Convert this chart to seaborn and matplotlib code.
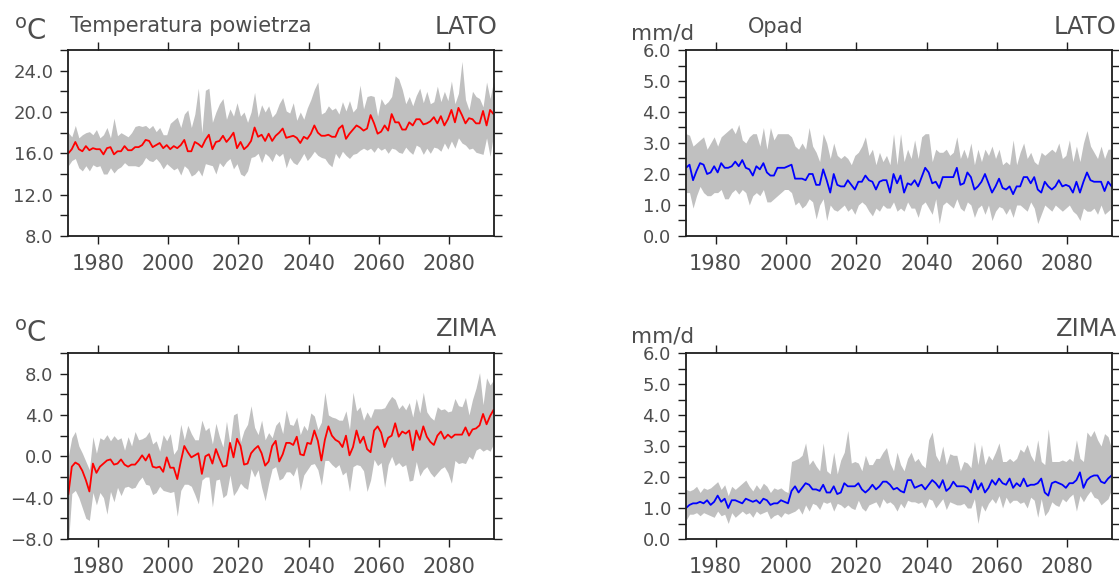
import numpy as np
import pandas as pd
import matplotlib
matplotlib.use("Agg")
import matplotlib.pyplot as plt
from matplotlib.ticker import MultipleLocator, FuncFormatter
import seaborn as sns

# ---------------------------------------------------------------- data
years = list(range(1971, 2094))

# summer (LATO) air temperature [degC]: ensemble mean, max, min
t_lato_mean = [
    16.0, 16.4, 17.1, 16.4, 16.2, 16.7, 16.3, 16.5, 16.4, 16.4,
    15.9, 16.5, 16.6, 15.9, 16.2, 16.2, 16.7, 16.3, 16.3, 16.6,
    16.6, 16.8, 17.3, 17.2, 16.6, 16.8, 17.0, 16.5, 16.8, 16.4,
    16.7, 16.5, 16.8, 17.3, 16.2, 16.2, 17.1, 16.9, 16.6, 17.3,
    17.8, 16.4, 17.1, 17.2, 17.7, 17.1, 17.5, 18.0, 16.5, 17.1,
    16.4, 16.7, 17.2, 18.5, 17.6, 17.8, 17.2, 17.9, 17.2, 17.7,
    18.0, 18.4, 17.5, 17.6, 17.7, 17.5, 17.0, 17.6, 17.4, 17.9,
    18.7, 18.0, 17.7, 17.7, 17.8, 17.6, 17.6, 18.4, 18.7, 17.4,
    17.9, 18.3, 18.7, 18.5, 18.2, 18.4, 19.7, 18.9, 17.9, 18.1,
    18.7, 18.2, 19.8, 19.0, 19.0, 18.3, 18.3, 19.0, 18.7, 19.3,
    19.3, 18.8, 18.9, 19.1, 19.5, 18.9, 19.6, 18.7, 19.3, 20.2,
    19.0, 20.4, 19.7, 18.9, 19.4, 19.3, 18.9, 18.9, 20.1, 18.7,
    20.2, 19.8, 19.8,
]
t_lato_max = [
    18.0, 17.6, 18.7, 17.5, 17.8, 18.0, 18.1, 17.8, 18.3, 17.5,
    17.8, 18.5, 17.5, 19.4, 17.7, 18.0, 17.8, 17.6, 18.0, 18.6,
    18.7, 18.6, 18.7, 18.4, 18.7, 18.1, 18.5, 17.8, 17.8, 18.9,
    19.2, 19.5, 18.5, 19.8, 20.2, 18.5, 19.8, 22.3, 18.0, 22.1,
    22.3, 19.0, 20.0, 20.8, 21.3, 19.3, 20.3, 19.6, 20.9, 19.6,
    20.0, 19.0, 20.0, 21.9, 19.5, 20.7, 20.0, 20.6, 19.5, 19.9,
    20.8, 21.4, 20.1, 19.9, 20.9, 19.2, 20.0, 19.3, 20.4, 21.2,
    22.2, 22.9, 19.8, 20.0, 20.6, 20.2, 20.4, 19.8, 21.0, 20.1,
    21.1, 20.0, 20.4, 22.6, 20.3, 21.5, 21.6, 21.5, 19.6, 21.3,
    20.7, 21.0, 21.5, 23.5, 23.2, 22.2, 20.8, 21.5, 20.6, 21.6,
    22.3, 20.9, 22.0, 20.8, 21.0, 22.5, 21.0, 22.0, 21.1, 23.0,
    20.8, 21.8, 24.9, 21.2, 20.2, 22.0, 21.5, 21.3, 20.5, 22.9,
    21.3, 23.0, 20.9,
]
t_lato_min = [
    14.8, 15.3, 15.5, 14.6, 14.3, 14.8, 14.3, 14.9, 14.7, 14.8,
    14.0, 14.0, 14.6, 14.1, 14.5, 14.7, 15.1, 14.8, 14.8, 14.8,
    14.7, 15.0, 15.6, 15.3, 15.2, 15.5, 15.1, 14.5, 15.0, 14.7,
    14.4, 14.6, 13.9, 14.8, 14.5, 13.8, 14.0, 14.4, 13.8, 15.0,
    14.9, 14.8, 14.0, 15.1, 14.7, 15.2, 15.5, 14.5, 15.0, 14.0,
    13.8, 14.3, 15.6, 15.7, 16.0, 15.1, 16.0, 15.7, 15.2, 16.0,
    15.7, 16.0, 14.6, 15.6, 15.1, 14.9, 15.4, 16.0, 15.3, 15.7,
    16.2, 15.8, 15.6, 15.5, 15.0, 14.7, 16.0, 15.5, 16.2, 15.8,
    15.5, 15.9, 16.0, 16.3, 16.5, 16.3, 16.5, 16.1, 16.6, 16.3,
    16.5, 16.0, 16.5, 16.4, 16.1, 16.0, 16.6, 16.2, 15.9, 16.8,
    16.6, 15.9, 16.5, 16.0, 16.6, 16.5, 16.2, 17.0, 16.4, 17.2,
    16.5, 17.5, 17.0, 16.8, 16.4, 16.5, 16.1, 16.0, 15.9, 17.5,
    15.7, 17.9, 18.5,
]

# winter (ZIMA) air temperature [degC]
t_zima_mean = [
    -3.7, -1.0, -0.6, -0.8, -1.4, -2.3, -3.4, -0.7, -1.6, -1.0,
    -0.7, -0.4, -0.3, -0.8, -0.7, -0.3, -0.8, -1.0, -0.8, -0.8,
    -0.4, 0.1, -0.4, 0.2, -1.0, -1.1, -1.0, -1.5, -0.1, -1.1,
    -1.1, -2.2, -0.5, 1.0, 0.4, -0.1, 0.1, 0.3, -1.7, 0.0,
    0.2, -0.7, 0.7, -0.2, -1.0, -0.9, 1.3, -0.1, 1.7, 1.0,
    -0.8, -0.7, 0.3, 0.7, 1.0, 0.3, -0.9, -0.5, 1.0, 1.5,
    -0.5, 0.2, 1.3, 1.3, 1.1, 1.9, 0.2, 0.1, 1.3, 1.2,
    2.5, 1.5, -0.4, 1.6, 2.9, 2.0, 1.6, 1.4, 0.9, 2.0,
    0.1, 0.9, 2.5, 1.3, 1.9, 0.7, 0.4, 2.5, 2.9, 2.3,
    0.9, 1.8, 2.0, 3.2, 1.9, 2.4, 2.2, 2.5, 0.6, 2.5,
    1.6, 2.9, 1.9, 1.4, 1.1, 2.0, 2.4, 1.7, 2.1, 1.8,
    2.1, 2.1, 2.1, 2.8, 2.0, 2.6, 2.7, 3.0, 4.1, 3.1,
    3.9, 4.5, 3.6,
]
t_zima_max = [
    0.0, 1.8, 2.4, 1.0, 0.3, -0.5, -1.3, 1.9, 0.3, 1.8,
    1.6, 2.1, 1.5, 2.0, 1.6, 1.8, 0.6, 1.9, 1.0, 2.4,
    1.6, 1.7, 1.9, 2.4, 1.2, 1.5, 0.5, 2.1, 1.5, 2.2,
    0.2, 0.7, 3.1, 1.6, 3.0, 2.2, 1.6, 1.6, 3.5, 2.5,
    2.8, 1.2, 3.2, 1.9, 0.9, 3.4, 1.2, 4.0, 4.2, 1.4,
    2.5, 3.1, 4.9, 2.8, 2.1, 3.5, 1.6, 2.3, 1.8, 3.0,
    3.4, 2.2, 4.5, 3.1, 3.0, 3.8, 2.1, 3.0, 2.5, 4.2,
    3.9, 2.6, 3.3, 6.2, 4.0, 3.8, 3.7, 3.5, 3.5, 4.4,
    2.6, 6.2, 4.4, 4.8, 3.5, 4.3, 3.7, 4.6, 4.6, 4.6,
    4.7, 5.3, 5.8, 5.5, 4.6, 5.0, 4.5, 5.2, 3.8, 5.6,
    4.2, 6.2, 4.3, 3.8, 3.5, 4.8, 4.5, 4.6, 4.3, 4.4,
    5.6, 4.9, 4.8, 5.7, 4.0, 5.5, 6.6, 8.1, 5.0, 7.6,
    6.9, 7.4, 5.3,
]
t_zima_min = [
    -8.6, -3.6, -3.3, -4.0, -5.0, -6.0, -6.2, -3.5, -4.7, -3.5,
    -4.0, -5.6, -3.4, -4.4, -3.0, -3.8, -3.0, -2.9, -3.1, -3.0,
    -2.4, -2.0, -2.7, -2.8, -3.7, -3.5, -2.9, -3.3, -3.4, -3.5,
    -3.4, -5.8, -3.3, -2.7, -2.7, -2.9, -3.7, -4.6, -2.3, -2.0,
    -2.0, -4.9, -2.3, -2.2, -4.0, -3.7, -1.8, -3.8, -3.3, -2.6,
    -3.0, -3.2, -1.2, -2.0, -1.3, -3.0, -4.3, -2.6, -1.2, -1.0,
    -2.3, -2.1, -1.5, -1.5, -1.9, -1.0, -3.3, -1.8, -1.3, -0.8,
    -0.7, -1.3, -2.8, -0.4, -0.4, -0.8, -1.1, -0.8, -1.8, -1.5,
    -3.4, -1.0, -0.8, -0.9, -1.4, -3.4, -2.3, -0.3, -0.9, -0.6,
    -3.0, -0.8, 0.0, -0.9, -0.6, -1.0, -0.8, -2.4, -2.3, -0.5,
    -1.9, -1.3, -1.0, -1.6, -2.0, -1.6, -1.2, -1.0, -1.6, -2.6,
    -0.4, -0.7, -0.6, -0.7, 0.0, -0.3, 0.6, 0.8, 0.5, 0.7,
    0.5, 1.2, 2.2,
]

# summer (LATO) precipitation [mm/d]
p_lato_mean = [
    2.2, 2.3, 1.8, 2.1, 2.35, 2.3, 2.0, 2.05, 2.25, 2.05,
    2.35, 2.2, 2.2, 2.25, 2.4, 2.25, 2.45, 2.2, 2.15, 1.95,
    2.25, 2.15, 2.35, 2.05, 1.95, 1.95, 2.2, 2.2, 2.2, 2.25,
    2.3, 1.85, 1.85, 1.85, 1.8, 2.0, 2.0, 1.65, 1.65, 2.15,
    1.8, 1.4, 2.0, 1.65, 1.6, 1.6, 1.8, 1.65, 1.5, 1.75,
    1.75, 1.95, 1.8, 1.75, 1.5, 1.75, 1.8, 1.8, 1.4, 2.0,
    1.7, 1.95, 1.4, 1.7, 1.65, 1.8, 1.6, 1.9, 2.2, 2.05,
    1.7, 1.75, 1.55, 1.9, 1.9, 1.9, 1.9, 2.2, 1.65, 1.7,
    2.05, 1.9, 1.5, 1.6, 1.75, 2.0, 1.7, 1.4, 1.6, 1.85,
    1.55, 1.5, 1.6, 1.35, 1.6, 1.6, 1.9, 1.9, 1.7, 1.9,
    1.5, 1.4, 1.75, 1.6, 1.5, 1.6, 1.8, 1.6, 1.65, 1.6,
    1.4, 1.75, 1.4, 1.75, 2.05, 1.8, 1.75, 1.75, 1.75, 1.45,
    1.75, 1.6, 1.9,
]
p_lato_max = [
    3.3, 3.25, 2.9, 3.0, 3.1, 3.2, 2.8, 3.0, 3.2, 2.9,
    3.2, 3.3, 3.4, 3.5, 3.3, 3.6, 3.1, 3.0, 3.2, 3.3,
    3.3, 2.9, 3.5, 2.8, 3.5, 3.1, 3.3, 3.3, 3.3, 3.3,
    3.2, 2.9, 2.8, 3.0, 2.8, 3.5, 2.9, 2.7, 2.4, 3.3,
    3.0, 2.5, 3.0, 2.6, 2.5, 2.6, 2.5, 2.3, 2.6, 2.7,
    2.9, 3.2, 2.6, 2.8, 2.3, 2.7, 2.4, 2.6, 2.3, 3.3,
    2.3, 3.3, 2.4, 2.8, 2.5, 3.1, 2.5, 3.2, 3.3, 3.3,
    2.4, 2.8, 2.7, 2.7, 2.8, 2.6, 2.7, 3.2, 2.5, 2.8,
    2.5, 3.0, 2.3, 2.8, 2.4, 2.8, 2.6, 2.9, 2.5, 2.8,
    2.3, 2.4, 2.3, 3.1, 2.3, 2.7, 3.0, 2.5, 2.7, 2.4,
    2.3, 2.7, 2.6, 2.7, 2.8, 2.7, 3.0, 2.5, 2.6, 3.1,
    2.4, 2.9, 2.4, 3.0, 3.4, 2.9, 2.7, 2.5, 2.9, 2.5,
    2.8, 2.8, 3.0,
]
p_lato_min = [
    1.4, 1.4, 0.9, 1.3, 1.6, 1.4, 1.3, 1.3, 1.4, 1.4,
    1.5, 1.2, 1.2, 1.4, 1.5, 1.35, 1.5, 1.4, 1.0, 1.3,
    1.4, 1.3, 1.5, 1.1, 1.1, 1.2, 1.3, 1.4, 1.5, 1.5,
    1.4, 1.0, 1.1, 0.9, 1.0, 1.2, 1.1, 0.55, 1.0, 1.2,
    0.5, 1.0, 0.85, 0.8, 0.9, 1.0, 0.8, 0.9, 0.7, 1.0,
    1.1, 1.0, 0.8, 0.65, 0.9, 0.8, 1.0, 0.9, 0.9, 1.1,
    0.8, 0.9, 0.8, 1.1, 0.9, 0.9, 0.6, 1.0, 1.1, 0.9,
    0.7, 1.2, 0.4, 1.0, 1.1, 1.0, 0.9, 1.2, 0.9, 0.8,
    1.1, 1.0, 0.6, 0.9, 1.0, 0.7, 1.0, 0.5, 0.8, 0.95,
    0.9, 0.7, 0.9, 0.6, 1.0, 1.0, 0.9, 0.8, 1.1, 0.9,
    0.4, 0.7, 1.0, 0.9, 0.8, 1.0, 0.9, 0.8, 0.9, 1.0,
    0.8, 0.7, 0.5, 0.9, 0.8, 0.8, 0.9, 0.7, 1.0, 0.7,
    0.8, 0.9, 0.7,
]

# winter (ZIMA) precipitation [mm/d]
p_zima_mean = [
    1.0, 1.1, 1.15, 1.15, 1.2, 1.15, 1.25, 1.1, 1.2, 1.4,
    1.2, 1.3, 1.0, 1.25, 1.25, 1.2, 1.15, 1.3, 1.25, 1.2,
    1.25, 1.15, 1.3, 1.25, 1.1, 1.15, 1.15, 1.25, 1.2, 1.15,
    1.55, 1.7, 1.5, 1.65, 1.8, 1.75, 1.6, 1.6, 1.55, 1.75,
    1.5, 1.5, 1.7, 1.45, 1.5, 1.8, 1.7, 1.7, 1.7, 1.8,
    1.6, 1.5, 1.6, 1.75, 1.6, 1.7, 1.85, 1.85, 1.75, 1.6,
    1.65, 1.55, 1.5, 1.9, 1.9, 1.65, 1.7, 1.75, 1.6, 1.75,
    1.9, 1.8, 1.65, 1.9, 1.55, 1.65, 1.85, 1.7, 1.7, 1.7,
    1.65, 1.5, 1.9, 1.6, 1.8, 1.5, 1.65, 1.9, 1.75, 1.95,
    1.8, 1.75, 1.95, 1.65, 1.8, 1.7, 1.95, 1.7, 1.75, 1.75,
    1.8, 1.95, 1.5, 1.4, 1.8, 1.85, 1.8, 1.75, 1.65, 1.8,
    1.8, 1.9, 2.15, 1.65, 1.9, 2.0, 2.05, 2.05, 1.85, 1.8,
    1.95, 2.05, 2.2,
]
p_zima_max = [
    1.6, 1.55, 1.6, 1.7, 1.5, 1.65, 1.6, 1.65, 1.75, 1.85,
    1.6, 1.75, 1.4, 1.7, 1.6, 1.7, 1.8, 1.9, 1.7, 1.55,
    1.75, 1.6, 1.8, 1.7, 1.5, 1.65, 1.6, 1.65, 1.55, 1.5,
    2.5, 2.55, 2.6, 2.7, 3.1, 2.4, 2.55, 2.35, 2.2, 3.1,
    2.2, 2.1, 2.8, 2.1, 2.55, 2.8, 3.5, 2.45, 2.5, 2.45,
    2.2, 2.7, 2.4, 2.4, 2.6, 2.6, 2.8, 2.95, 2.45, 2.2,
    2.8, 2.4, 2.2, 2.6, 2.8, 2.5, 2.6, 2.4, 2.3, 3.2,
    3.45, 2.7, 2.5, 3.0, 2.4, 2.75, 2.7, 2.7, 2.2, 2.5,
    2.45, 2.3, 3.15, 2.4, 3.05, 2.4, 2.7, 2.55, 2.8, 3.1,
    2.5, 2.5, 2.6, 2.5, 2.6, 2.9, 2.8, 3.05, 2.7, 2.5,
    3.2, 2.5, 2.4, 3.55, 2.5, 2.5, 2.5, 2.55, 2.5, 2.6,
    2.5, 3.2, 2.6, 2.5, 3.45, 3.3, 3.5, 3.2, 3.0, 3.4,
    3.3, 2.9, 3.0,
]
p_zima_min = [
    0.6, 0.8, 0.8, 0.85, 0.75, 0.85, 0.8, 0.75, 0.7, 0.9,
    0.75, 0.8, 0.5, 0.85, 0.7, 0.8, 0.9, 0.8, 0.85, 0.7,
    0.9, 0.8, 0.85, 0.9, 0.65, 0.75, 0.8, 0.7, 0.85, 0.8,
    0.85, 0.9, 1.0, 0.8, 1.1, 0.9, 1.15, 1.1, 0.95, 1.2,
    1.15, 1.2, 0.9, 1.15, 1.1, 1.0, 1.1, 1.0, 0.95, 1.25,
    1.0, 0.9, 1.1, 1.15, 1.2, 1.0, 1.3, 1.15, 1.2, 1.1,
    0.9, 1.15, 1.0, 1.25, 1.2, 1.2, 1.15, 1.2, 1.0, 1.3,
    1.25, 1.0, 1.15, 1.3, 0.95, 1.2, 1.15, 1.1, 1.1, 1.15,
    1.0, 1.0, 1.3, 0.5, 1.1, 0.9, 1.15, 1.3, 1.15, 1.4,
    1.0, 1.35, 1.15, 1.25, 1.25, 1.15, 1.2, 1.0, 1.35, 1.25,
    0.7, 1.3, 0.75, 0.9, 1.2, 1.1, 1.05, 1.3, 1.2, 1.35,
    1.45, 0.9, 1.4, 1.2, 1.4, 1.55, 1.35, 1.3, 1.1, 1.2,
    1.3, 1.6, 1.5,
]

# ---------------------------------------------------------------- style
sns.set_theme(style="ticks")
plt.rcParams["font.family"] = ["DejaVu Sans"]
plt.rcParams["mathtext.fontset"] = "dejavusans"

TXT = "#4d4d4d"
AX = "#1e1e1e"
BAND = "#c0c0c0"

W, H = 1119, 575
fig = plt.figure(figsize=(W / 100, H / 100), dpi=100)

# seasonal means are stamped in the middle of the season
x_pos = [y + 0.6 for y in years]


def px_rect(left, top, right, bottom):
    return [left / W, 1 - bottom / H, (right - left) / W, (bottom - top) / H]


def px_text(x, y, s, size, ha="left"):
    fig.text(x / W, 1 - y / H, s, fontsize=size, color=TXT, ha=ha, va="baseline")


minus_fmt = FuncFormatter(lambda v, _: f"{v:.1f}".replace("-", "\u2212"))


def panel(rect, mean, lo, hi, color, ylim, major, minor):
    ax = fig.add_axes(rect)
    df = pd.DataFrame({"year": x_pos, "mean": mean, "lo": lo, "hi": hi})
    ax.fill_between(df["year"], df["lo"], df["hi"], color=BAND, lw=0, zorder=1)
    sns.lineplot(data=df, x="year", y="mean", color=color, lw=1.3, ax=ax, zorder=3)
    ax.set_xlim(1971.6, 2092.8)
    ax.set_ylim(*ylim)
    ax.set_xlabel("")
    ax.set_ylabel("")
    ax.xaxis.set_major_locator(MultipleLocator(20))
    ax.xaxis.set_major_formatter(FuncFormatter(lambda v, _: f"{v:.0f}"))
    ax.yaxis.set_major_locator(MultipleLocator(major))
    ax.yaxis.set_minor_locator(MultipleLocator(minor))
    ax.yaxis.set_major_formatter(minus_fmt)
    for s in ax.spines.values():
        s.set_visible(True)
        s.set_linewidth(1.3)
        s.set_color(AX)
        s.set_zorder(5)
    ax.tick_params(which="both", direction="out", length=5.8, width=1.0,
                   color=AX, top=True, right=True, labeltop=False, labelright=False)
    ax.tick_params(axis="x", which="minor", length=0)
    ax.tick_params(axis="x", labelsize=15, labelcolor=TXT, pad=7)
    ax.tick_params(axis="y", labelsize=13, labelcolor=TXT, pad=5)
    ax.set_facecolor("white")
    return ax


top_t, top_b = 50, 236
bot_t, bot_b = 353, 539
lx0, lx1 = 68.3, 494.3
rx0, rx1 = 686, 1112.3

panel(px_rect(lx0, top_t, lx1, top_b), t_lato_mean, t_lato_min, t_lato_max,
      "#ff0000", (8, 26), 4, 2)
panel(px_rect(lx0, bot_t, lx1, bot_b), t_zima_mean, t_zima_min, t_zima_max,
      "#ff0000", (-8, 10), 4, 2)
panel(px_rect(rx0, top_t, rx1, top_b), p_lato_mean, p_lato_min, p_lato_max,
      "#0000ff", (0, 6), 1, 0.5)
panel(px_rect(rx0, bot_t, rx1, bot_b), p_zima_mean, p_zima_min, p_zima_max,
      "#0000ff", (0, 6), 1, 0.5)

# headings
px_text(14, 39.5, r"$^{\mathrm{o}}$C", 20)
px_text(70, 32.5, "Temperatura powietrza", 15)
px_text(497.5, 33.5, "LATO", 17.5, ha="right")
px_text(631, 39.5, "mm/d", 15.5)
px_text(748, 33, "Opad", 15)
px_text(1117, 33.5, "LATO", 17.5, ha="right")

px_text(14, 342.5, r"$^{\mathrm{o}}$C", 20)
px_text(497.5, 336.5, "ZIMA", 17.5, ha="right")
px_text(631, 342.5, "mm/d", 15.5)
px_text(1117, 336.5, "ZIMA", 17.5, ha="right")

fig.savefig("out.png", dpi=100, facecolor="white")
